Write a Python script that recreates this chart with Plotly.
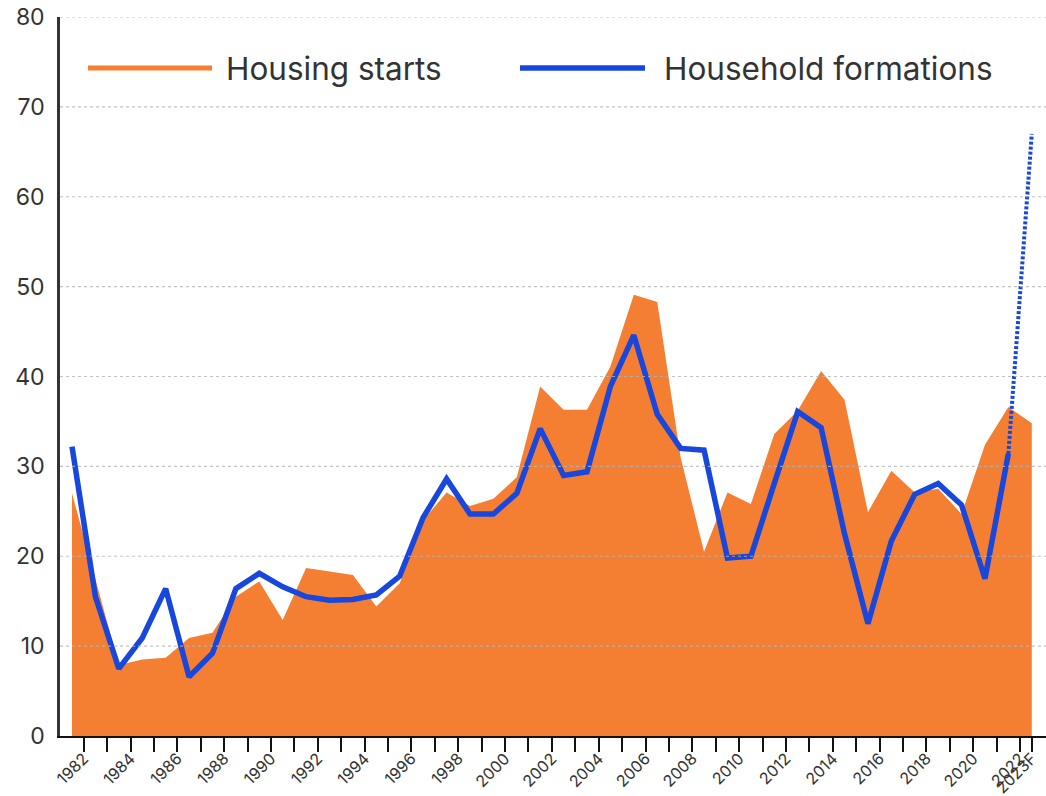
import plotly.graph_objects as go

# Alberta housing starts vs household formations (thousands)
years = list(range(1982, 2024))
housing_starts = [
    27.0, 17.5, 7.9, 8.5, 8.7, 10.9, 11.5, 15.5, 17.2, 12.9,
    18.7, 18.3, 17.9, 14.4, 17.0, 24.0, 27.1, 25.6, 26.4, 28.8,
    38.9, 36.3, 36.3, 41.1, 49.1, 48.3, 31.0, 20.5, 27.1, 25.8,
    33.6, 36.2, 40.6, 37.4, 24.9, 29.5, 27.1, 27.5, 24.7, 32.4,
    36.6, 34.8,
]
household_formations = [
    32.2, 15.5, 7.5, 10.9, 16.4, 6.6, 9.2, 16.4, 18.1, 16.6,
    15.5, 15.1, 15.2, 15.7, 17.8, 24.3, 28.6, 24.7, 24.7, 27.0,
    34.2, 29.0, 29.4, 38.9, 44.6, 35.8, 32.0, 31.8, 19.8, 20.0,
    28.1, 36.1, 34.3, 22.5, 12.5, 21.7, 26.9, 28.1, 25.7, 17.5,
    31.4, 67.0,
]
forecast_label = "2023F"
y_ticks = [0, 10, 20, 30, 40, 50, 60, 70, 80]

ORANGE = "#F47F33"
BLUE = "#1747DC"
TEXT = "#333333"
FONT = "Inter"

# Ticks sit between years; every second one carries a label, the forecast year gets its own
tick_vals = [y + 0.5 for y in years[:-1]] + [years[-1]]
tick_text = [str(y) if y % 2 == 0 else "" for y in years[:-1]] + [forecast_label]

fig = go.Figure()

fig.add_trace(go.Scatter(
    x=years, y=housing_starts, mode="lines", fill="tozeroy",
    fillcolor=ORANGE, line=dict(width=0, color=ORANGE),
    name="Housing starts", showlegend=False, hoverinfo="x+y",
))

# actual household formations, then the dotted forecast leg
fig.add_trace(go.Scatter(
    x=years[:-1], y=household_formations[:-1], mode="lines",
    line=dict(color=BLUE, width=5.5), name="Household formations",
    showlegend=False,
))
fig.add_trace(go.Scatter(
    x=years[-2:], y=household_formations[-2:], mode="lines",
    line=dict(color=BLUE, width=4, dash="3px,2px"),
    showlegend=False, hoverinfo="skip",
))

# dotted gridlines drawn over the area so they show through the fill
shapes = []
for v in y_ticks[1:]:
    shapes.append(dict(
        type="line", xref="paper", yref="y", x0=0, x1=1, y0=v, y1=v,
        line=dict(color="rgba(180,180,180,0.8)", width=1.2, dash="dot"),
        layer="above",
    ))

# legend drawn by hand: long line samples followed by labels
legend_items = [("Housing starts", ORANGE, 5, 88, 212, 224),
                ("Household formations", BLUE, 5.5, 520, 645, 662)]
W, H = 1046, 796
ML, MR, MT, MB = 60, 0, 17, 60
pw, ph = W - ML - MR, H - MT - MB
legend_y = 68
annotations = []
for label, col, lw, x0, x1, tx in legend_items:
    yy = 1 - (legend_y - MT) / ph
    shapes.append(dict(
        type="line", xref="paper", yref="paper",
        x0=(x0 - ML) / pw, x1=(x1 - ML) / pw, y0=yy, y1=yy,
        line=dict(color=col, width=lw), layer="above",
    ))
    annotations.append(dict(
        text=label, xref="paper", yref="paper", x=(tx - ML) / pw, y=yy,
        xanchor="left", yanchor="middle", showarrow=False,
        font=dict(family=FONT, size=31.5, color=TEXT),
    ))

fig.update_layout(
    width=W, height=H,
    margin=dict(l=ML, r=MR, t=MT, b=MB, pad=0, autoexpand=False),
    paper_bgcolor="white", plot_bgcolor="white",
    font=dict(family=FONT, color=TEXT),
    shapes=shapes, annotations=annotations,
    showlegend=False,
)
fig.update_xaxes(
    range=[1981.487, 2023.607], automargin=False,
    tickmode="array", tickvals=tick_vals, ticktext=tick_text,
    tickangle=-45, tickfont=dict(size=16, color=TEXT, family=FONT),
    ticks="outside", ticklen=14, tickwidth=2, tickcolor="#111111",
    ticklabelstandoff=-9,
    showline=True, linecolor="#111111", linewidth=2,
    showgrid=False, zeroline=False,
)
fig.update_yaxes(
    range=[0, 80], tickmode="array", tickvals=y_ticks, automargin=False,
    tickfont=dict(size=23, color=TEXT, family=FONT),
    ticks="", ticklabelstandoff=8,
    showline=True, linecolor="#333333", linewidth=2.5,
    showgrid=False, zeroline=False,
)

fig.write_html("out.html")
